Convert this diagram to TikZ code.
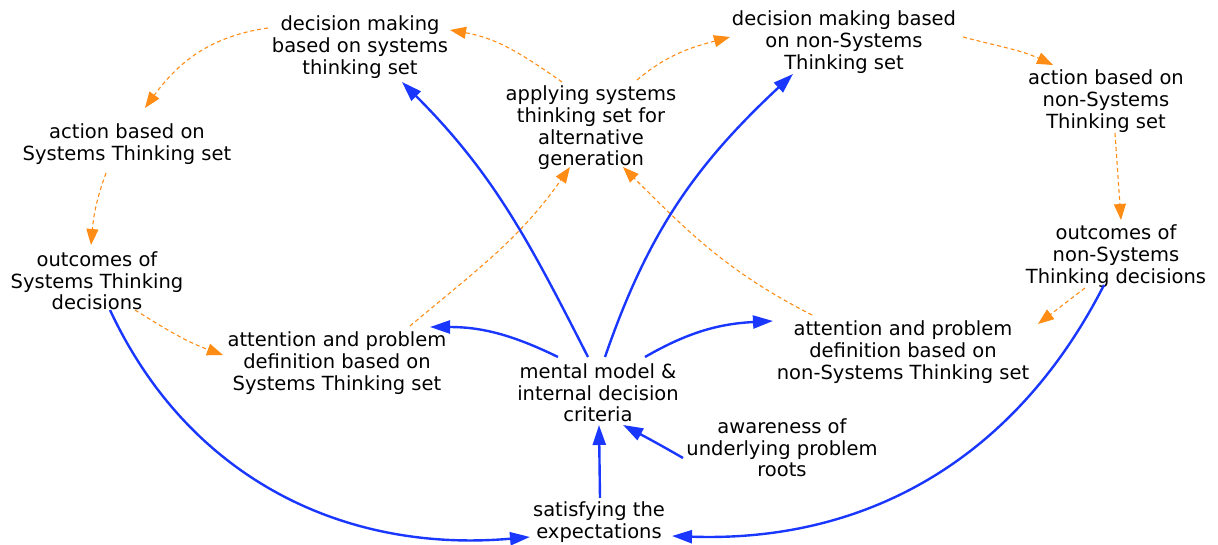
\documentclass[tikz,border=0pt]{standalone}
\usepackage{fontspec}
\setmainfont{DejaVu Sans}
\usetikzlibrary{arrows.meta,calc}
\definecolor{cblue}{RGB}{25,55,255}
\definecolor{corange}{RGB}{255,140,20}
\begin{document}
\begin{tikzpicture}[x=1pt,y=1pt,
 lbl/.style={align=center,inner sep=0pt,yshift=-2pt,font=\fontsize{19.5}{21.7}\selectfont},
 flow/.style={draw=cblue,line width=2.4pt,-{Triangle[length=20pt,width=13pt]}},
 link/.style={draw=corange,line width=1.1pt,dash pattern=on 4pt off 3pt,-{Triangle[length=16pt,width=12pt]}}]
\useasboundingbox (0,0) rectangle (1218,545);
\node[lbl] (dmS) at (360,500) {decision making\\based on systems\\thinking set};
\node[lbl] (apply) at (591,419) {applying systems\\thinking set for\\alternative\\generation};
\node[lbl] (dmN) at (844,505) {decision making based\\on non-Systems\\Thinking set};
\node[lbl] (actN) at (1106,446) {action based on\\non-Systems\\Thinking set};
\node[lbl] (outN) at (1116,291) {outcomes of\\non-Systems\\Thinking decisions};
\node[lbl] (attN) at (903,195) {attention and problem\\definition based on\\non-Systems Thinking set};
\node[lbl] (attS) at (337,184) {attention and problem\\definition based on\\Systems Thinking set};
\node[lbl] (outS) at (97,266) {outcomes of\\Systems Thinking\\decisions};
\node[lbl] (actS) at (127,403) {action based on\\Systems Thinking set};
\node[lbl] (mm) at (598,154) {mental model \&\\internal decision\\criteria};
\node[lbl] (aw) at (782,99) {awareness of\\underlying problem\\roots};
\node[lbl] (sat) at (599,25) {satisfying the\\expectations};

\draw[link] ([shift={(-92,19)}]dmS.center) to[out=188,in=54] ([shift={(18,36)}]actS.center);
\draw[link] ([shift={(-21,-29)}]actS.center) to[out=-110,in=85] ([shift={(-6,36)}]outS.center);
\draw[link] ([shift={(38,-29)}]outS.center) to[out=-32,in=160] ([shift={(-114,8)}]attS.center);
\draw[link] ([shift={(73,37)}]attS.center) to[out=40,in=235] ([shift={(-21,-39)}]apply.center);
\draw[link] ([shift={(-29,46)}]apply.center) to[out=145,in=-10] ([shift={(90,17)}]dmS.center);
\draw[link] ([shift={(46,48)}]apply.center) to[out=40,in=195] ([shift={(-114,5)}]dmN.center);
\draw[link] ([shift={(119,5)}]dmN.center) to[out=-15,in=155] ([shift={(-53,36)}]actN.center);
\draw[link] ([shift={(9,-32)}]actN.center) -- ([shift={(5,36)}]outN.center);
\draw[link] ([shift={(-31,-32)}]outN.center) -- ([shift={(135,28)}]attN.center);
\draw[link] ([shift={(-91,37)}]attN.center) to[out=153,in=-45] ([shift={(32,-39)}]apply.center);

\draw[flow] ([shift={(-10,36)}]mm.center) to[out=117,in=-45] ([shift={(42,-35)}]dmS.center);
\draw[flow] ([shift={(7,36)}]mm.center) to[out=71,in=223] ([shift={(-51,-32)}]dmN.center);
\draw[flow] ([shift={(-40,36)}]mm.center) to[out=154,in=0] ([shift={(93,36)}]attS.center);
\draw[flow] ([shift={(47,36)}]mm.center) to[out=30,in=183] ([shift={(-130,31)}]attN.center);
\draw[flow] ([shift={(-99,-10)}]aw.center) to[out=150,in=-28] ([shift={(25,-32)}]mm.center);
\draw[flow] ([shift={(1,24)}]sat.center) -- ([shift={(1,-32)}]mm.center);
\draw[flow] ([shift={(13,-29)}]outS.center) to[out=-65,in=185] ([shift={(-69,-15)}]sat.center);
\draw[flow] ([shift={(-12,-29)}]outN.center) to[out=243,in=-2] ([shift={(73,-14)}]sat.center);
\end{tikzpicture}
\end{document}
